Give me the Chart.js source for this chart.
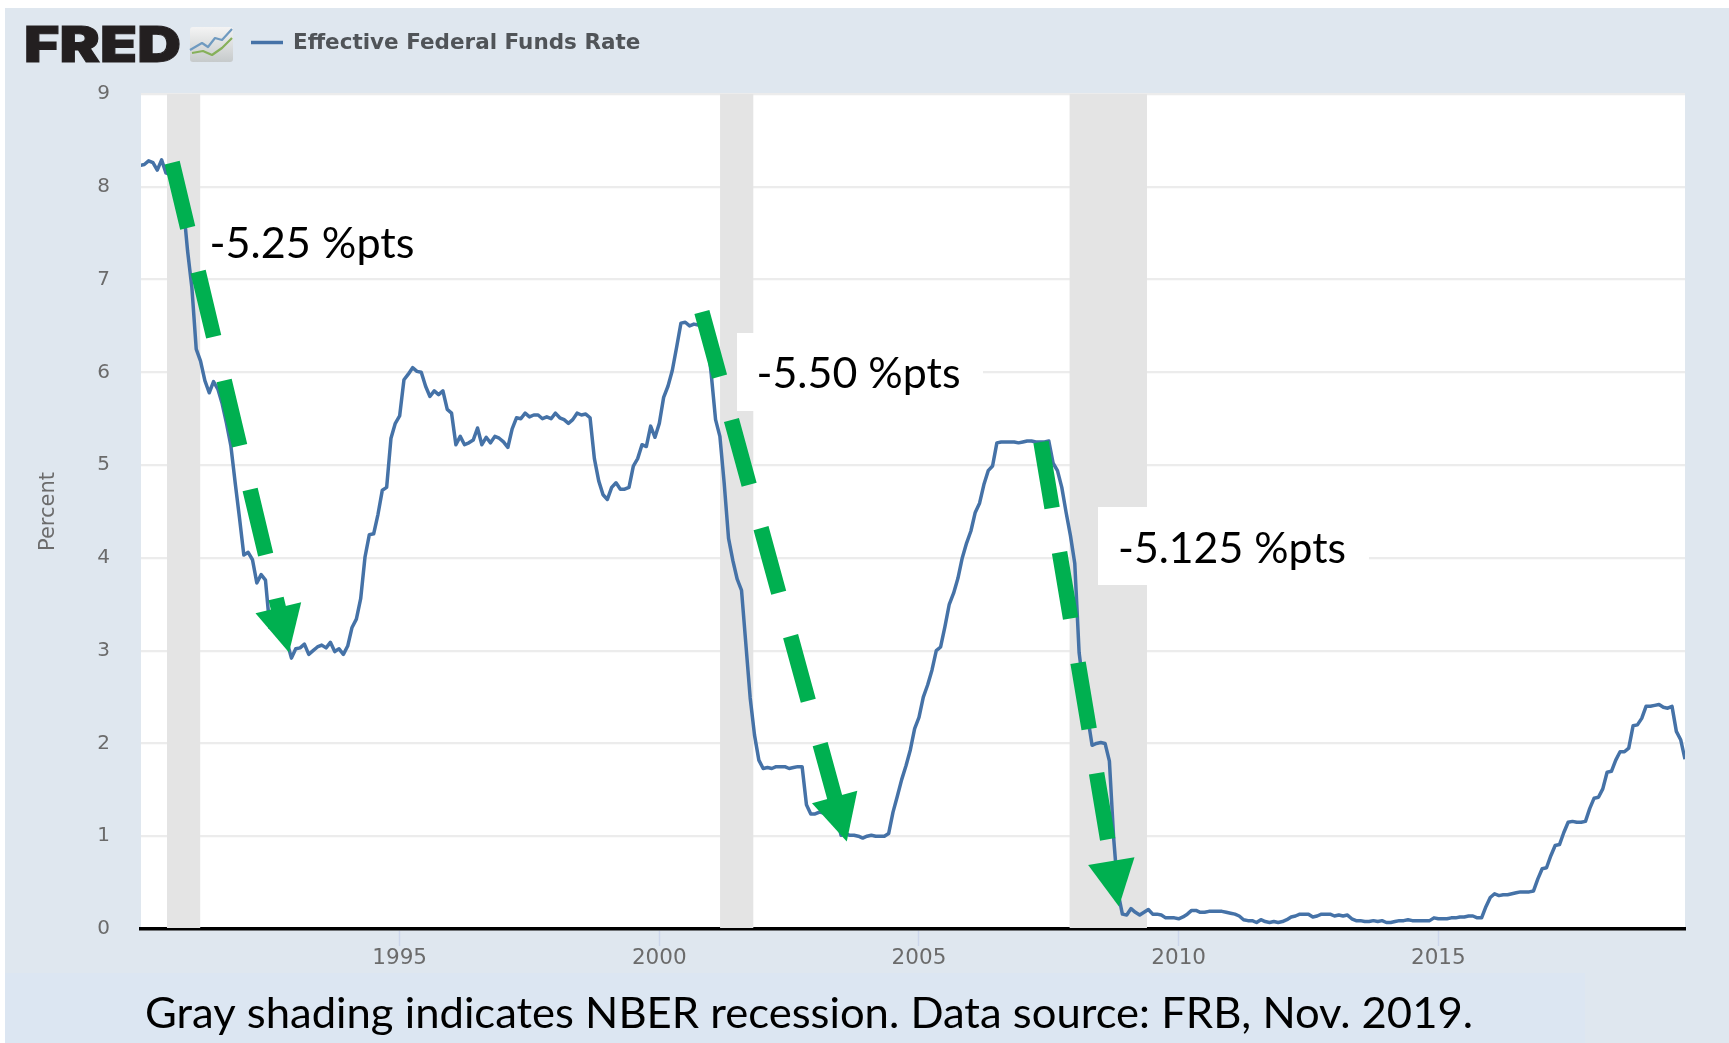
<!DOCTYPE html>
<html><head><meta charset="utf-8">
<script src="https://cdn.jsdelivr.net/npm/chart.js@4/dist/chart.umd.js"></script>
<style>html,body{margin:0;padding:0;background:#fff}canvas{display:block}</style>
</head><body><canvas id="c" width="1729" height="1043"></canvas>
<script>
const startYear = 1990;
const fedFunds = [
8.23,8.24,8.28,8.26,8.18,8.29,8.15,8.13,8.20,8.11,7.81,7.31,
6.91,6.25,6.12,5.91,5.78,5.90,5.82,5.66,5.45,5.21,4.81,4.43,
4.03,4.06,3.98,3.73,3.82,3.76,3.25,3.30,3.22,3.10,3.09,2.92,
3.02,3.03,3.07,2.96,3.00,3.04,3.06,3.03,3.09,2.99,3.02,2.96,
3.05,3.25,3.34,3.56,4.01,4.25,4.26,4.47,4.73,4.76,5.29,5.45,
5.53,5.92,5.98,6.05,6.01,6.00,5.85,5.74,5.80,5.76,5.80,5.60,
5.56,5.22,5.31,5.22,5.24,5.27,5.40,5.22,5.30,5.24,5.31,5.29,
5.25,5.19,5.39,5.51,5.50,5.56,5.52,5.54,5.54,5.50,5.52,5.50,
5.56,5.51,5.49,5.45,5.49,5.56,5.54,5.55,5.51,5.07,4.83,4.68,
4.63,4.76,4.81,4.74,4.74,4.76,4.99,5.07,5.22,5.20,5.42,5.30,
5.45,5.73,5.85,6.02,6.27,6.53,6.54,6.50,6.52,6.51,6.51,6.40,
5.98,5.49,5.31,4.80,4.21,3.97,3.77,3.65,3.07,2.49,2.09,1.82,
1.73,1.74,1.73,1.75,1.75,1.75,1.73,1.74,1.75,1.75,1.34,1.24,
1.24,1.26,1.25,1.26,1.26,1.22,1.01,1.03,1.01,1.01,1.00,0.98,
1.00,1.01,1.00,1.00,1.00,1.03,1.26,1.43,1.61,1.76,1.93,2.16,
2.28,2.50,2.63,2.79,3.00,3.04,3.26,3.50,3.62,3.78,4.00,4.16,
4.29,4.49,4.59,4.79,4.94,4.99,5.24,5.25,5.25,5.25,5.25,5.24,
5.25,5.26,5.26,5.25,5.25,5.25,5.26,5.02,4.94,4.76,4.49,4.24,
3.94,2.98,2.61,2.28,1.98,2.00,2.01,2.00,1.81,0.97,0.39,0.16,
0.15,0.22,0.18,0.15,0.18,0.21,0.16,0.16,0.15,0.12,0.12,0.12,
0.11,0.13,0.16,0.20,0.20,0.18,0.18,0.19,0.19,0.19,0.19,0.18,
0.17,0.16,0.14,0.10,0.09,0.09,0.07,0.10,0.08,0.07,0.08,0.07,
0.08,0.10,0.13,0.14,0.16,0.16,0.16,0.13,0.14,0.16,0.16,0.16,
0.14,0.15,0.14,0.15,0.11,0.09,0.09,0.08,0.08,0.09,0.08,0.09,
0.07,0.07,0.08,0.09,0.09,0.10,0.09,0.09,0.09,0.09,0.09,0.12,
0.11,0.11,0.11,0.12,0.12,0.13,0.13,0.14,0.14,0.12,0.12,0.24,
0.34,0.38,0.36,0.37,0.37,0.38,0.39,0.40,0.40,0.40,0.41,0.54,
0.65,0.66,0.79,0.90,0.91,1.04,1.15,1.16,1.15,1.15,1.16,1.30,
1.41,1.42,1.51,1.69,1.70,1.82,1.91,1.91,1.95,2.19,2.20,2.27,
2.40,2.40,2.41,2.42,2.39,2.38,2.40,2.13,2.04,1.83];
const xTickYears = [1995,2000,2005,2010,2015];
const yTickValues = [0,1,2,3,4,5,6,7,8,9];
const recessionStart = [1990.52,2001.17,2007.90];
const recessionEnd   = [1991.16,2001.81,2009.39];
const dropStartX = [1990.62,2000.82,2007.35];
const dropStartY = [8.26,6.65,5.25];
const dropTipX   = [1992.87,2003.61,2008.85];
const dropTipY   = [2.98,0.944,0.243];
const dropLabels = ['-5.25 %pts','-5.50 %pts','-5.125 %pts'];
const seriesName = 'Effective Federal Funds Rate';
const yAxisTitle = 'Percent';
const captionText = 'Gray shading indicates NBER recession. Data source: FRB, Nov. 2019.';

const BLUE='#4572a7', GREEN='#00b050', SHAFT=15.5, HEAD_W=47, HEAD_L=46;

const seriesPoints = fedFunds.map((v,i)=>({x:startYear+i/12,y:v}));
function shaftEnd(i){ // dashes stop inside the arrow head
  const f=0.95;
  return {x:dropStartX[i]+(dropTipX[i]-dropStartX[i])*f, y:dropStartY[i]+(dropTipY[i]-dropStartY[i])*f};
}
const shaftSets = dropStartX.map((_,i)=>({
  label:'drop'+i, order:0, data:[{x:dropStartX[i],y:dropStartY[i]},shaftEnd(i)],
  borderColor:GREEN, borderWidth:SHAFT, borderDash:[67,45], borderCapStyle:'butt',
  pointRadius:0, tension:0, fill:false, clip:false
}));
function fitText(c,t,x,y,w){
  const m=c.measureText(t).width;
  c.save(); c.translate(x,y); c.scale(w/m,1); c.fillText(t,0,0); c.restore();
}

const frame = {
  id:'frame',
  beforeDraw(ch){
    const c=ch.ctx, a=ch.chartArea;
    c.save();
    c.fillStyle='#fff'; c.fillRect(0,0,ch.width,ch.height);
    c.fillStyle='#dfe7ef'; c.fillRect(5,8,ch.width-5,ch.height-8);
    c.fillStyle='#dce6f2'; c.fillRect(5,973,1580,70);
    c.fillStyle='#fff'; c.fillRect(a.left,a.top,a.right-a.left,a.bottom-a.top);
    c.restore();
  },
  beforeDatasetsDraw(ch){
    const c=ch.ctx, a=ch.chartArea, xs=ch.scales.x;
    c.save(); c.fillStyle='#e4e4e4';
    recessionStart.forEach((s,i)=>{
      const l=xs.getPixelForValue(s), r=xs.getPixelForValue(recessionEnd[i]);
      c.fillRect(l,a.top,r-l,a.bottom-a.top-1);
    });
    c.restore();
  },
  afterDatasetsDraw(ch){
    const c=ch.ctx, xs=ch.scales.x, ys=ch.scales.y;
    c.save();
    // arrow heads
    c.fillStyle=GREEN;
    dropTipX.forEach((tx,i)=>{
      const px=xs.getPixelForValue(tx), py=ys.getPixelForValue(dropTipY[i]);
      const qx=xs.getPixelForValue(dropStartX[i]), qy=ys.getPixelForValue(dropStartY[i]);
      const d=Math.hypot(px-qx,py-qy), ux=(px-qx)/d, uy=(py-qy)/d;
      const bx=px-ux*HEAD_L, by=py-uy*HEAD_L;
      c.beginPath(); c.moveTo(px,py);
      c.lineTo(bx-uy*HEAD_W/2,by+ux*HEAD_W/2);
      c.lineTo(bx+uy*HEAD_W/2,by-ux*HEAD_W/2);
      c.closePath(); c.fill();
    });
    // white label plates
    c.fillStyle='#fff';
    c.fillRect(737,333,246,78);
    c.fillRect(1098,507,271,78);
    // label text
    c.fillStyle='#000'; c.font='42px Lato'; c.textBaseline='alphabetic'; c.textAlign='left';
    fitText(c,dropLabels[0],209.5,258,205);
    fitText(c,dropLabels[1],756.5,388,204);
    fitText(c,dropLabels[2],1118,563,228);
    // caption
    fitText(c,captionText,145,1028,1328);
    // FRED logo
    c.fillStyle='#231f20'; c.strokeStyle='#231f20'; c.lineWidth=1; c.font='900 49px Inter';
    fitText(c,'FRED',24,62,157);
    c.save(); c.translate(24,62); c.scale(157/c.measureText('FRED').width,1); c.strokeText('FRED',0,0); c.restore();
    // logo icon
    const g=c.createLinearGradient(190,27,190,62);
    g.addColorStop(0,'#f4f4f4'); g.addColorStop(1,'#c6cacb');
    c.fillStyle=g; c.beginPath(); c.roundRect(190,27,43,35,3); c.fill();
    c.lineWidth=2.2; c.lineJoin='round';
    c.strokeStyle='#6f9ac0'; c.beginPath();
    [[190,50],[202,43],[208,47],[215,38],[222,40],[232,29]].forEach((p,i)=>i?c.lineTo(p[0],p[1]):c.moveTo(p[0],p[1])); c.stroke();
    c.strokeStyle='#86b05a'; c.beginPath();
    [[192,53],[203,51],[212,55],[222,48],[232,38]].forEach((p,i)=>i?c.lineTo(p[0],p[1]):c.moveTo(p[0],p[1])); c.stroke();
    // legend
    c.strokeStyle=BLUE; c.lineWidth=3.5;
    c.beginPath(); c.moveTo(251,42.5); c.lineTo(283,42.5); c.stroke();
    c.fillStyle='#505458'; c.font='bold 21.5px "DejaVu Sans"'; c.textBaseline='middle';
    c.fillText(seriesName,293,43.5);
    c.restore();
  }
};

new Chart(document.getElementById('c'),{
  type:'line',
  data:{datasets:[
    ...shaftSets,
    {label:seriesName, order:1, data:seriesPoints, borderColor:BLUE, borderWidth:3.5,
     pointRadius:0, tension:0, fill:false, borderJoinStyle:'round'}
  ]},
  options:{
    responsive:false, animation:false,
    layout:{padding:{left:0,right:44,top:94,bottom:0}},
    plugins:{legend:{display:false},tooltip:{enabled:false}},
    scales:{
      x:{type:'linear',min:startYear+0.02,max:2019.75,
        afterBuildTicks:s=>{s.ticks=xTickYears.map(v=>({value:v}));},
        afterFit:s=>{s.height=114;},
        grid:{display:true,drawOnChartArea:false,drawTicks:true,tickLength:17,tickColor:'#ccd6eb',tickWidth:1.5},
        border:{display:true,color:'#000',width:3.5},
        ticks:{color:'#6b6b6b',font:{family:'"DejaVu Sans"',size:21.5},padding:0,maxRotation:0,autoSkip:false,
          callback:v=>String(v)}
      },
      y:{type:'linear',min:0,max:9,
        afterBuildTicks:s=>{s.ticks=yTickValues.map(v=>({value:v}));},
        afterFit:s=>{s.width=141;},
        grid:{color:'#ececec',lineWidth:2.2,drawTicks:false},
        border:{display:false},
        ticks:{color:'#6b6b6b',font:{family:'"DejaVu Sans"',size:20},padding:31,autoSkip:false,callback:v=>String(v)},
        title:{display:true,text:yAxisTitle,color:'#6b6b6b',font:{family:'"DejaVu Sans"',size:21},padding:{top:36,bottom:0}}
      }
    }
  },
  plugins:[frame]
});
</script></body></html>
